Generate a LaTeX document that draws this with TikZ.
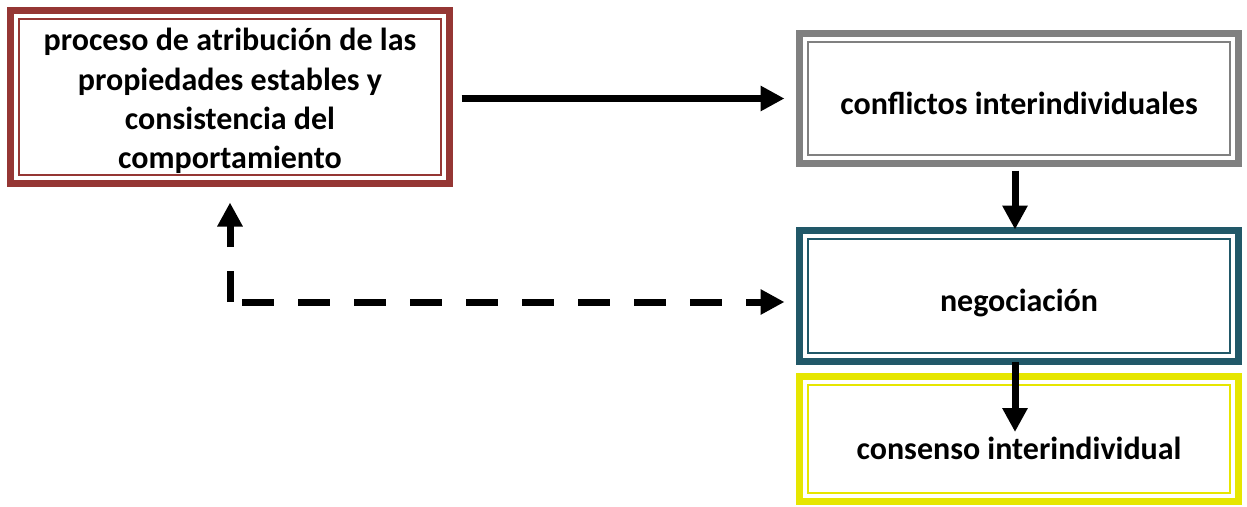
\documentclass[tikz,border=0pt]{standalone}
\usepackage{fontspec}
\setmainfont{Carlito}
\usetikzlibrary{arrows.meta}
\definecolor{cRed}{RGB}{149,54,52}
\definecolor{cGray}{RGB}{128,128,128}
\definecolor{cTeal}{RGB}{33,88,104}
\definecolor{cYellow}{RGB}{230,230,0}
\newcommand{\lowered}[2]{\raisebox{-#1}[\height][\depth]{#2}}
\tikzset{
  frame/.style={draw=#1, line width=7pt, fill=white, inner sep=0pt,
    minimum width=439pt, align=center,
    font=\fontsize{32}{39.3}\selectfont\bfseries,
    path picture={\draw[#1, line width=1.6pt]
      ([shift={(8.5,-8.5)}]path picture bounding box.north west) rectangle
      ([shift={(-8.5,8.5)}]path picture bounding box.south east);}},
  conn/.style={line width=7pt, -{Triangle[length=24pt 0 0, width=24pt 0 0]}},
  dashconn/.style={conn, dash pattern=on 32pt off 24pt}
}
\begin{document}
\begin{tikzpicture}[x=1pt,y=1pt]
\useasboundingbox (0,0) rectangle (1247,-506);
\node[frame=cRed, minimum height=173pt] (b1) at (230,-97)
  {\lowered{5pt}{\begin{tabular}{@{}c@{}}proceso de atribución de las\\propiedades estables y\\consistencia del\\comportamiento\end{tabular}}};
\node[frame=cGray, minimum height=130pt] (b2) at (1019,-98.5)
  {\lowered{5pt}{conflictos interindividuales}};
\node[frame=cTeal, minimum height=131pt] (b3) at (1019,-296)
  {\lowered{7pt}{negociación}};
\node[frame=cYellow, minimum height=125pt] (b4) at (1019,-439)
  {\lowered{9pt}{consenso interindividual}};
% arrows
\draw[conn, shorten <=8.5pt, shorten >=11.5pt] (b1.east |- b2.west) -- (b2.west);
\draw[conn, shorten <=3.5pt, shorten >=-2.5pt] ([xshift=-4pt]b2.south) -- ([xshift=-4pt]b3.north);
\draw[conn, shorten <=-3.5pt, shorten >=7pt] ([xshift=-4pt]b3.south) -- ([xshift=-4pt]b4.center);
\coordinate (corner) at (230,-302);
\draw[dashconn, dash phase=1pt, shorten >=15.5pt] (corner) -- (b1.south);
\draw[dashconn, dash phase=44pt, shorten >=11.5pt] (corner) -- (corner -| b3.west);
\end{tikzpicture}
\end{document}
